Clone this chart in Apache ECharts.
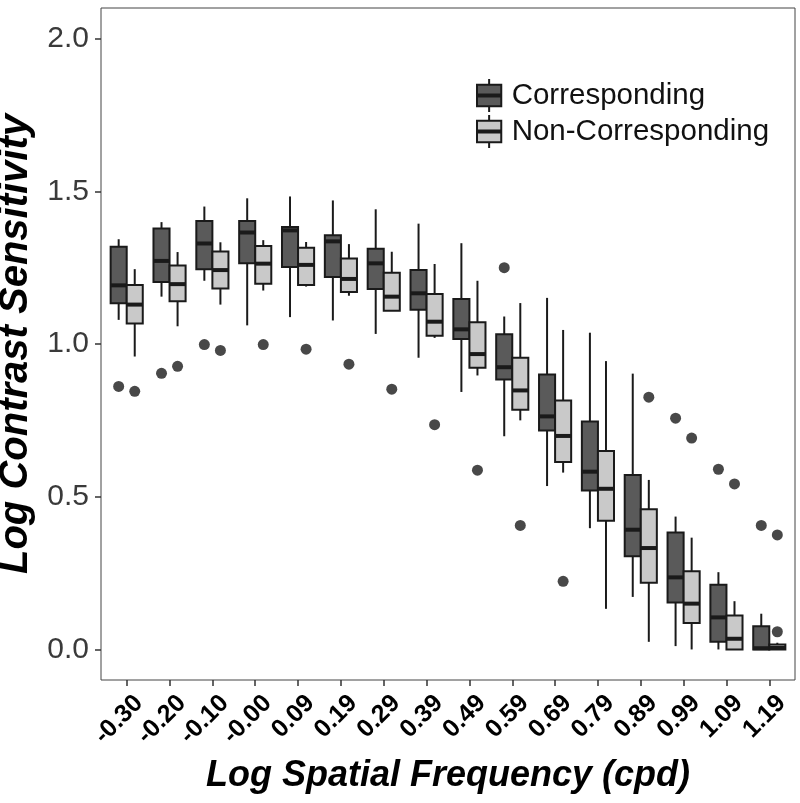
<!DOCTYPE html>
<html>
<head>
<meta charset="utf-8">
<script src="https://cdn.jsdelivr.net/npm/echarts@6/dist/echarts.min.js"></script>
<style>html,body{margin:0;padding:0;background:#fff}#chart{width:800px;height:803px}</style>
</head>
<body>
<div id="chart"></div>
<script>
// Category tick labels (log spatial frequency, cpd)
var categories = ['-0.30','-0.20','-0.10','-0.00','0.09','0.19','0.29','0.39','0.49','0.59','0.69','0.79','0.89','0.99','1.09','1.19'];
var yTicks = [0, 0.5, 1.0, 1.5, 2.0];
var seriesNames = ['Corresponding', 'Non-Corresponding'];

// Box statistics per category: [lower whisker, Q1, median, Q3, upper whisker]
var correspondingBoxes = [
  [1.079, 1.133, 1.192, 1.318, 1.343],
  [1.155, 1.203, 1.272, 1.378, 1.399],
  [1.207, 1.245, 1.329, 1.403, 1.450],
  [1.061, 1.264, 1.365, 1.403, 1.477],
  [1.088, 1.252, 1.372, 1.383, 1.483],
  [1.077, 1.219, 1.336, 1.356, 1.470],
  [1.033, 1.180, 1.264, 1.312, 1.441],
  [0.955, 1.112, 1.166, 1.242, 1.394],
  [0.843, 1.016, 1.048, 1.147, 1.330],
  [0.698, 0.884, 0.924, 1.032, 1.090],
  [0.535, 0.717, 0.763, 0.900, 1.151],
  [0.397, 0.520, 0.582, 0.746, 1.037],
  [0.172, 0.305, 0.392, 0.571, 0.903],
  [0.011, 0.154, 0.236, 0.383, 0.435],
  [0.000, 0.025, 0.105, 0.212, 0.253],
  [0.000, 0.000, 0.004, 0.076, 0.117]
];
var nonCorrespondingBoxes = [
  [0.959, 1.067, 1.129, 1.193, 1.245],
  [1.058, 1.140, 1.196, 1.257, 1.301],
  [1.129, 1.182, 1.242, 1.303, 1.333],
  [1.175, 1.197, 1.263, 1.321, 1.340],
  [1.188, 1.193, 1.259, 1.315, 1.334],
  [1.158, 1.170, 1.213, 1.280, 1.327],
  [1.109, 1.109, 1.155, 1.233, 1.302],
  [1.020, 1.027, 1.073, 1.164, 1.262],
  [0.897, 0.922, 0.967, 1.071, 1.207],
  [0.750, 0.785, 0.848, 0.955, 1.134],
  [0.579, 0.614, 0.699, 0.815, 1.046],
  [0.133, 0.421, 0.526, 0.650, 0.944],
  [0.025, 0.218, 0.332, 0.459, 0.555],
  [0.000, 0.087, 0.150, 0.256, 0.366],
  [0.000, 0.000, 0.035, 0.111, 0.158],
  [0.000, 0.000, 0.005, 0.016, 0.022]
];
// Outliers: [category index, value]
var correspondingOutliers = [[0,0.861],[1,0.904],[2,0.998],[9,1.250],[13,0.757],[14,0.590],[15,0.406]];
var nonCorrespondingOutliers = [[0,0.845],[1,0.927],[2,0.979],[3,0.998],[4,0.983],[5,0.934],[6,0.852],[7,0.736],[8,0.587],[9,0.406],[10,0.223],[12,0.826],[13,0.692],[14,0.542],[15,0.375],[15,0.058]];

var DODGE = 0.1875, BOX_W = 0.375, EDGE = '#1a1a1a';
var FONT = "'Liberation Sans', Arial, Helvetica, sans-serif";
var catIdx = categories.map(function (c, i) { return i; });

function boxData(boxes) {
  return boxes.map(function (b, i) { return [i].concat(b); });
}
function outlierData(pts, sign) {
  return pts.map(function (p) { return [p[0] + sign * DODGE, p[1]]; });
}
function boxRenderer(sign) {
  return function (params, api) {
    var x = api.value(0) + sign * DODGE;
    var lo = api.coord([x, api.value(1)]);
    var q1 = api.coord([x, api.value(2)]);
    var md = api.coord([x, api.value(3)]);
    var q3 = api.coord([x, api.value(4)]);
    var hi = api.coord([x, api.value(5)]);
    var hw = api.size([BOX_W, 0])[0] / 2;
    var fill = api.visual('color');
    var ls = { stroke: EDGE, lineWidth: 2 };
    return {
      type: 'group',
      children: [
        { type: 'line', shape: { x1: hi[0], y1: hi[1], x2: q3[0], y2: q3[1] }, style: ls },
        { type: 'line', shape: { x1: q1[0], y1: q1[1], x2: lo[0], y2: lo[1] }, style: ls },
        { type: 'rect', shape: { x: q3[0] - hw, y: q3[1], width: 2 * hw, height: q1[1] - q3[1] },
          style: { fill: fill, stroke: EDGE, lineWidth: 2 } },
        { type: 'line', shape: { x1: md[0] - hw, y1: md[1], x2: md[0] + hw, y2: md[1] },
          style: { stroke: EDGE, lineWidth: 4 } }
      ]
    };
  };
}

var legendIcon = 'path://M13.5,0V6M1,6H26V28H1ZM1,16H26V18H1ZM13.5,28V34';

var chart = echarts.init(document.getElementById('chart'), null, { renderer: 'canvas' });
chart.setOption({
  animation: false,
  backgroundColor: '#ffffff',
  textStyle: { fontFamily: FONT },
  grid: { left: 101, right: 5, top: 8, bottom: 123, outerBoundsMode: 'none', containLabel: false,
          show: true, borderColor: '#444444', borderWidth: 1, backgroundColor: 'transparent' },
  legend: {
    orient: 'vertical', left: 476, top: 78, padding: 0,
    itemWidth: 27, itemHeight: 33, itemGap: 1,
    data: seriesNames.map(function (n) { return { name: n, icon: legendIcon }; }),
    itemStyle: { borderColor: EDGE, borderWidth: 2 },
    textStyle: { fontSize: 29.5, lineHeight: 32, color: '#111', fontFamily: FONT, padding: [0, 0, 0, 4] }
  },
  xAxis: {
    type: 'value', min: -0.6, max: 15.6,
    axisLine: { show: false, onZero: false },
    splitLine: { show: false },
    axisTick: { show: true, customValues: catIdx, length: 6, lineStyle: { color: '#333', width: 1.5 } },
    axisLabel: {
      customValues: catIdx,
      formatter: function (v) { return categories[Math.round(v)]; },
      rotate: 45, align: 'right', verticalAlign: 'top', margin: 7, padding: [5, 0, 0, 0],
      fontSize: 25, fontWeight: 'bold', color: '#000', fontFamily: FONT
    },
    name: 'Log Spatial Frequency (cpd)', nameLocation: 'middle', nameGap: 78,
    nameTextStyle: { fontSize: 36, fontWeight: 'bold', fontStyle: 'italic', color: '#000', fontFamily: FONT }
  },
  yAxis: {
    type: 'value', min: -0.1, max: 2.1,
    axisLine: { show: false, onZero: false },
    splitLine: { show: false },
    axisTick: { show: true, customValues: yTicks, length: 6, lineStyle: { color: '#333', width: 1.5 } },
    axisLabel: {
      customValues: yTicks,
      formatter: function (v) { return v.toFixed(1); },
      fontSize: 30, color: '#3a3a3a', margin: 12, fontFamily: FONT
    },
    name: 'Log Contrast Sensitivity', nameLocation: 'middle', nameGap: 62,
    nameTextStyle: { fontSize: 40, fontWeight: 'bold', fontStyle: 'italic', color: '#000', fontFamily: FONT }
  },
  series: [
    {
      name: seriesNames[0], type: 'custom', renderItem: boxRenderer(-1),
      itemStyle: { color: '#5a5a5a' },
      encode: { x: 0, y: [1, 2, 3, 4, 5] },
      data: boxData(correspondingBoxes), z: 2
    },
    {
      name: seriesNames[1], type: 'custom', renderItem: boxRenderer(1),
      itemStyle: { color: '#c9c9c9' },
      encode: { x: 0, y: [1, 2, 3, 4, 5] },
      data: boxData(nonCorrespondingBoxes), z: 2
    },
    {
      name: seriesNames[0] + ' outliers', type: 'scatter', symbol: 'circle', symbolSize: 11,
      itemStyle: { color: '#1a1a1a' }, data: outlierData(correspondingOutliers, -1), z: 3
    },
    {
      name: seriesNames[1] + ' outliers', type: 'scatter', symbol: 'circle', symbolSize: 11,
      itemStyle: { color: '#1a1a1a' }, data: outlierData(nonCorrespondingOutliers, 1), z: 3
    }
  ]
});
</script>
</body>
</html>
